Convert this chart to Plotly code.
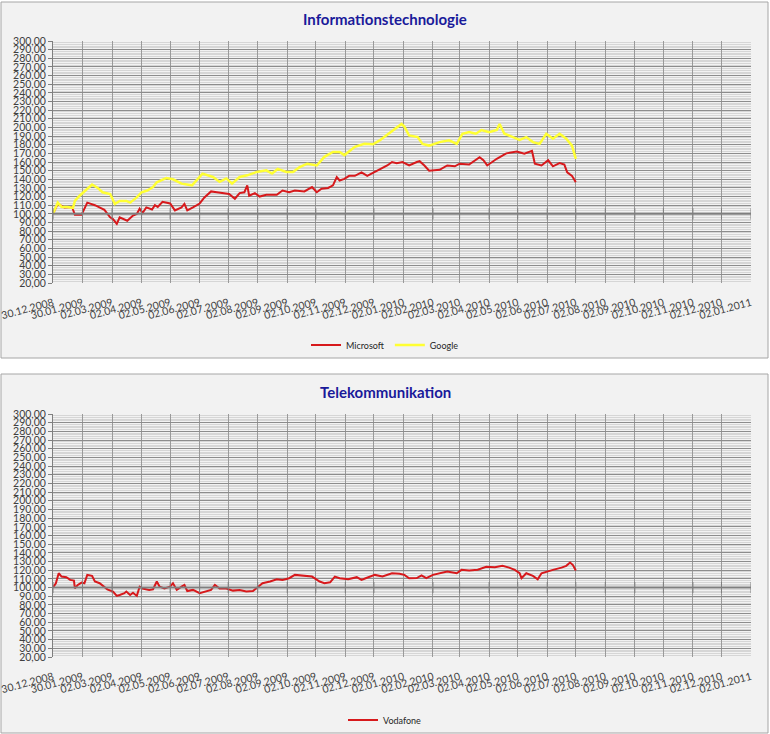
import pandas as pd
import plotly.graph_objects as go

BASE_DATE = "2008-12-30"

tick_labels = [
    "30.12.2008", "30.01.2009", "02.03.2009", "02.04.2009", "02.05.2009",
    "02.06.2009", "02.07.2009", "02.08.2009", "02.09.2009", "02.10.2009",
    "02.11.2009", "02.12.2009", "02.01.2010", "02.02.2010", "02.03.2010",
    "02.04.2010", "02.05.2010", "02.06.2010", "02.07.2010", "02.08.2010",
    "02.09.2010", "02.10.2010", "02.11.2010", "02.12.2010", "02.01.2011",
]
y_ticks = list(range(20, 301, 10))
y_labels = [f"{v},00" for v in y_ticks]

# days after 30.12.2008 / indexed value (start = 100)
msft_days = [0, 5, 12, 20, 23, 30, 36, 44, 54, 60, 63, 67, 70, 75, 78, 84, 88, 91, 94, 98,
             104, 107, 110, 115, 123, 128, 135, 138, 141, 147, 154, 159, 166, 172, 177, 185,
             191, 196, 201, 204, 206, 212, 217, 224, 235, 241, 248, 254, 264, 272, 277, 282,
             289, 294, 298, 301, 306, 311, 317, 324, 330, 335, 341, 346, 351, 356, 361, 367,
             374, 382, 385, 390, 395, 406, 414, 422, 427, 437, 448, 452, 456, 466, 476, 487,
             495, 503, 506, 513, 520, 525, 532, 537, 540, 545, 549]
msft_vals = [100, 111.5, 107.5, 108, 99, 99, 113, 110, 104.6, 96, 94, 88.5, 96, 94, 92, 98, 100,
             106, 101, 107.5, 105, 110, 108, 114, 112, 104, 107.5, 111.5, 104, 107.5, 112, 119,
             126, 125, 124, 123, 117.5, 124, 125, 133, 121, 124, 120, 122, 122, 127, 125, 127,
             126, 131, 125, 129, 130, 133, 142.5, 138.6, 140.5, 144, 144, 148, 144, 147, 150,
             153, 156, 160, 158.7, 160, 156, 160, 161, 156, 150, 151, 156, 155, 158, 157, 165.6,
             162, 156, 163.7, 170, 172, 169.5, 173, 158, 156, 162, 155, 158.7, 157, 148, 144,
             136.7]

goog_days = [0, 5, 9, 15, 21, 23, 28, 36, 41, 47, 52, 60, 65, 70, 77, 81, 88, 93, 99, 105, 109,
             114, 119, 126, 135, 146, 157, 168, 175, 182, 188, 196, 204, 214, 224, 230, 236, 245,
             252, 259, 267, 277, 285, 294, 301, 306, 317, 327, 336, 343, 353, 362, 366, 369, 374,
             383, 388, 395, 406, 416, 424, 430, 437, 444, 450, 458, 466, 469, 474, 483, 490, 497,
             504, 511, 518, 525, 532, 539, 545, 549]
goog_vals = [100, 113, 108, 108, 107, 115, 121, 129, 134, 130, 125, 123, 111.5, 115, 115, 113, 119,
             125, 127, 131, 136.5, 139, 141.5, 140, 135, 133, 146.6, 142.7, 137, 141, 135, 142.7,
             144.6, 148.5, 150.4, 146.6, 152, 148.5, 148.5, 154, 158, 156, 166, 171.7, 171.7, 168,
             177.5, 181, 180.5, 185, 193, 201, 204, 201, 190.7, 188.8, 181, 179, 183, 185, 181,
             192.7, 194.6, 192.7, 197, 194.6, 197, 204, 192.7, 188.8, 185.7, 188.8, 183, 181,
             192.7, 187, 192.7, 187, 179, 163.7]

vod_days = [0, 3, 6, 9, 14, 18, 22, 23, 26, 30, 33, 36, 41, 44, 49, 54, 57, 63, 67, 70, 75, 77,
            81, 84, 88, 91, 94, 101, 105, 109, 112, 117, 123, 126, 130, 135, 138, 141, 147, 154,
            161, 166, 170, 175, 182, 189, 196, 203, 210, 215, 220, 228, 235, 241, 248, 254, 262,
            272, 280, 285, 291, 296, 301, 310, 319, 324, 329, 338, 346, 356, 364, 369, 374, 382,
            387, 392, 399, 406, 414, 424, 429, 437, 446, 455, 464, 472, 479, 485, 490, 492, 497,
            504, 509, 513, 518, 525, 534, 539, 543, 546, 549]
vod_vals = [100, 105, 116.5, 112.7, 112, 108.8, 108, 99, 103, 105.8, 105, 114.6, 113.5, 107, 105,
            101, 98, 95.4, 90.4, 91.5, 93.5, 95.4, 91.5, 94, 90.4, 101, 99, 97.3, 98, 107, 101, 99,
            101, 105, 97.3, 101, 103, 96, 97.3, 93.5, 95.4, 97.3, 103, 99, 99, 96.5, 97.3, 95.4,
            96, 101, 105, 107, 109.6, 108.8, 110.8, 114.6, 113.5, 112.7, 107, 105, 106, 112.7,
            110.8, 109.6, 112, 108.8, 111, 114.6, 112.7, 116.5, 116, 114.6, 110.8, 111, 114,
            110.8, 114.6, 116.5, 118.5, 116.5, 120.4, 119.6, 120.5, 124, 123.5, 125, 123, 120.4,
            116.5, 110.8, 116.5, 113.5, 109.6, 116.5, 118.5, 120.4, 123, 125, 128.8, 126, 119.6]


def to_dates(days):
    return pd.Timestamp(BASE_DATE) + pd.to_timedelta(days, unit="D")


tick_dates = pd.to_datetime(tick_labels, format="%d.%m.%Y")

W, H = 770, 734
FONT = "Lato"
TEXT = "#404040"
GRID = "#8c8c8c"


def py(px):
    return 1 - px / H


fig = go.Figure()

fig.add_trace(go.Scatter(x=to_dates(msft_days), y=msft_vals, mode="lines", name="Microsoft",
                         line=dict(color="#d7191c", width=2), xaxis="x", yaxis="y", legend="legend"))
fig.add_trace(go.Scatter(x=to_dates(goog_days), y=goog_vals, mode="lines", name="Google",
                         line=dict(color="#ffff33", width=2.5), xaxis="x", yaxis="y", legend="legend"))
fig.add_trace(go.Scatter(x=to_dates(vod_days), y=vod_vals, mode="lines", name="Vodafone",
                         line=dict(color="#d7191c", width=2), xaxis="x2", yaxis="y2", legend="legend2"))

# Excel-style category axis crossing at 100, with its tick marks
for xa, ya in [("x", "y"), ("x2", "y2")]:
    fig.add_shape(type="line", xref=xa + " domain", yref=ya, x0=0, x1=1, y0=100, y1=100,
                  line=dict(color="#7f7f7f", width=2), layer="above")
    fig.add_trace(go.Scatter(x=tick_dates, y=[100] * len(tick_dates), mode="markers",
                             marker=dict(symbol="line-ns", size=8, line=dict(color="#7f7f7f", width=1)),
                             xaxis=xa, yaxis=ya, showlegend=False, hoverinfo="skip"))

# panel backgrounds
for top, bottom in [(2, 358), (374, 733)]:
    fig.add_shape(type="rect", xref="paper", yref="paper", x0=1 / W, x1=768 / W,
                  y0=py(bottom), y1=py(top), fillcolor="#f2f2f2",
                  line=dict(color="#a6a6a6", width=1), layer="below")

xaxis_style = dict(
    type="date", range=[tick_dates[0], tick_dates[-1]], tickvals=tick_dates, ticktext=tick_labels,
    tickangle=-15, showgrid=True, gridcolor="#9a9a9a", gridwidth=1, zeroline=False, showline=False,
    ticks="", tickfont=dict(family=FONT, size=10.5, color=TEXT), domain=[53 / W, 751 / W],
    automargin=False, ticklabeloverflow="allow", ticklabelstandoff=11,
)
yaxis_style = dict(
    range=[20, 300], tickvals=y_ticks, ticktext=y_labels, showgrid=True, gridcolor=GRID,
    gridwidth=1, zeroline=False, showline=True, linecolor="#7f7f7f", linewidth=1,
    ticks="outside", ticklen=4, tickcolor="#7f7f7f",
    tickfont=dict(family=FONT, size=10.5, color=TEXT), automargin=False,
    ticklabeloverflow="allow",
    minor=dict(dtick=2, tick0=0, showgrid=True, gridcolor="#d6d6d6", gridwidth=1),
)

fig.update_layout(
    width=W, height=H,
    margin=dict(l=0, r=0, t=0, b=0, autoexpand=False),
    paper_bgcolor="white", plot_bgcolor="rgba(0,0,0,0)",
    font=dict(family=FONT, color=TEXT),
    xaxis=dict(xaxis_style, anchor="y"),
    yaxis=dict(yaxis_style, anchor="x", domain=[py(283), py(41)]),
    xaxis2=dict(xaxis_style, anchor="y2"),
    yaxis2=dict(yaxis_style, anchor="x2", domain=[py(657), py(414)]),
    legend=dict(orientation="h", x=0.5, xanchor="center", y=py(345), yanchor="middle",
                font=dict(family=FONT, size=9, color="#262626"), bgcolor="rgba(0,0,0,0)"),
    legend2=dict(orientation="h", x=0.5, xanchor="center", y=py(720), yanchor="middle",
                 font=dict(family=FONT, size=9, color="#262626"), bgcolor="rgba(0,0,0,0)"),
    annotations=[
        dict(text="<b>Informationstechnologie</b>", x=0.5, y=py(19), xref="paper", yref="paper",
             xanchor="center", yanchor="middle", showarrow=False,
             font=dict(family=FONT, size=15, color="#1a1a9a")),
        dict(text="<b>Telekommunikation</b>", x=0.5, y=py(392), xref="paper", yref="paper",
             xanchor="center", yanchor="middle", showarrow=False,
             font=dict(family=FONT, size=15, color="#1a1a9a")),
    ],
    showlegend=True,
)

fig.write_html("out.html", config={"displayModeBar": False},
               post_script="document.body.style.margin = '0';")
